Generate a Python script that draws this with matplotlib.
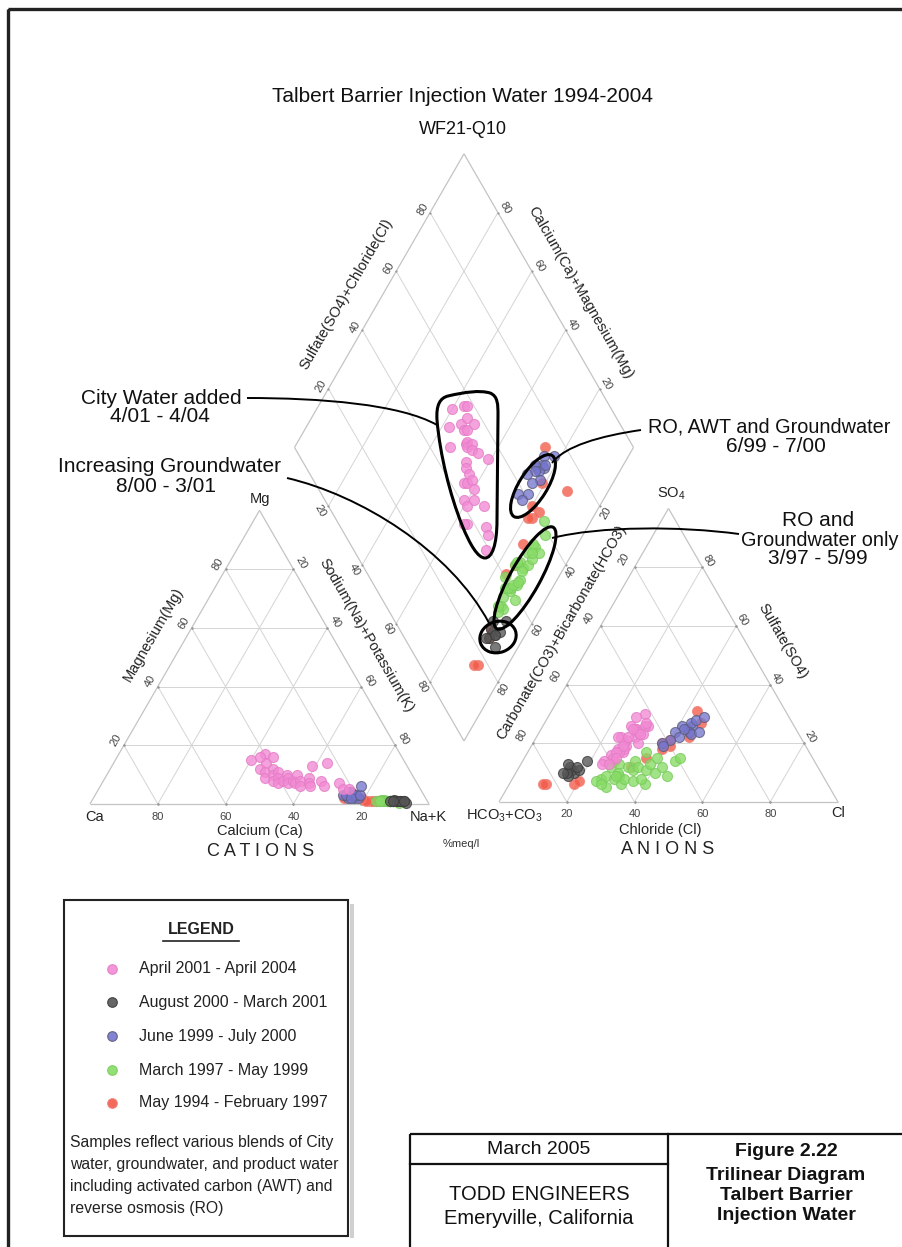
import numpy as np
import matplotlib
matplotlib.use("Agg")
import matplotlib.pyplot as plt
from matplotlib.path import Path
from matplotlib.patches import PathPatch, Ellipse, Rectangle

plt.rcParams['font.family'] = ['Liberation Sans', 'DejaVu Sans']
plt.rcParams['mathtext.default'] = 'regular'

# ---------------------------------------------------------------------------
# Sample chemistry in %meq/l: (Na+K, Mg, SO4, Cl).  Ca = 100 - Na - Mg,
# HCO3+CO3 = 100 - SO4 - Cl.
# ---------------------------------------------------------------------------
series_labels = ["April 2001 - April 2004", "August 2000 - March 2001",
                 "June 1999 - July 2000", "March 1997 - May 1999",
                 "May 1994 - February 1997"]

apr01_apr04 = [
    (40, 15, 25, 28), (43, 17, 26, 31), (44, 12, 30, 28), (45, 14, 24, 29),
    (46, 11, 26, 30), (47, 9, 25, 28), (48, 12, 23, 31), (49, 10, 27, 30),
    (50, 8, 22, 29), (50, 11, 26, 26), (51, 9, 20, 31), (52, 7, 24, 29),
    (53, 10, 21, 27), (53, 8, 25, 27), (54, 9, 19, 28), (55, 7, 23, 30),
    (56, 8, 18, 26), (56, 10, 22, 25), (57, 7, 17, 28), (58, 8, 20, 27),
    (59, 6, 16, 25), (60, 9, 18, 28), (61, 7, 15, 26), (62, 6, 17, 27),
    (64, 8, 14, 24), (66, 6, 19, 27), (70, 7, 17, 26), (72, 5, 15, 27),
    (63, 14, 13, 24), (59, 13, 29, 26), (46, 16, 22, 24), (42, 16, 22, 27),
    (74, 5, 13, 26),
]

aug00_mar01 = [
    (90, 1, 11, 16), (91, 1, 10, 17), (89, 1.5, 12, 15), (92, 1, 11, 18),
    (90, 1, 9, 16), (93, 0.5, 10, 15), (88, 1, 12, 17), (91, 1, 13, 14),
    (89, 1, 10, 14), (92, 1, 14, 19),
]

jun99_jul00 = [
    (76, 3, 26, 44), (75, 3, 25, 43), (77, 2, 27, 43), (74, 4, 24, 44),
    (76, 3, 23, 45), (75, 2, 26, 41), (78, 2, 25, 42), (73, 3, 24, 40),
    (76, 3, 22, 42), (75, 4, 28, 44), (77, 3, 21, 40), (74, 3, 20, 38),
    (76, 2, 19, 39), (78, 3, 29, 46), (77, 6, 24, 47),
]

mar97_may99 = [
    (88, 1, 8, 26), (87, 1, 9, 27), (89, 1, 5, 29), (88, 1, 12, 27),
    (86, 1.5, 8, 30), (88, 1, 9, 31), (89, 1, 13, 29), (87, 1, 6, 33),
    (88, 1, 8, 33), (89, 1, 12, 32), (85, 1.5, 11, 34), (89, 1, 7, 36),
    (88, 1, 14, 33), (86, 1, 12, 35), (89, 1, 11, 38), (88, 1, 6, 40),
    (87, 1, 13, 38), (89, 1, 10, 41), (88, 1, 12, 42), (90, 1, 15, 39),
    (87, 1, 9, 45), (88, 1, 17, 35), (89, 1, 14, 45), (86, 1, 15, 46),
    (88, 1, 7, 25), (87, 1, 6, 27), (84, 1, 10, 30), (91, 0.5, 9, 30),
    (85, 1, 8, 38),
]

may94_feb97 = [
    (91, 1, 6, 11), (90, 1, 6, 19), (89, 1, 7, 20), (84, 1, 14, 27),
    (84, 1, 15, 36), (82, 1, 20, 38), (83, 1, 21, 40), (74, 2, 31, 43),
    (88, 1, 27, 46), (80, 1.5, 19, 41), (81, 1, 18, 39), (79, 2, 22, 45),
    (85, 1, 12, 33), (90, 1, 6, 10),
]

series_data = [apr01_apr04, aug00_mar01, jun99_jul00, mar97_may99, may94_feb97]
series_face = ["#f28ad4", "#555555", "#7676cf", "#88dc66", "#f25a48"]
series_edge = ["#e47cc6", "#3a3a3a", "#5c5c7a", "#78cc5c", "#f08078"]

ticks = [20, 40, 60, 80]

# ---------------------------------------------------------------------------
# Page geometry (pixel space, y downwards)
# ---------------------------------------------------------------------------
W, H = 902, 1247
SIDE = 339.0
HT = SIDE * np.sqrt(3) / 2

CAT = dict(A=(90.0, 804.0))
CAT["B"] = (CAT["A"][0] + SIDE, CAT["A"][1])
CAT["C"] = (CAT["A"][0] + SIDE / 2, CAT["A"][1] - HT)
AN = dict(A=(499.0, 802.0))
AN["B"] = (AN["A"][0] + SIDE, AN["A"][1])
AN["C"] = (AN["A"][0] + SIDE / 2, AN["A"][1] - HT)
DB = (464.0, 741.0)
DR = (DB[0] + SIDE / 2, DB[1] - HT)
DT = (DB[0], DB[1] - 2 * HT)
DL = (DB[0] - SIDE / 2, DB[1] - HT)


def cation_xy(na, mg):
    na, mg = np.asarray(na) / 100.0, np.asarray(mg) / 100.0
    return CAT["A"][0] + (na + mg / 2) * SIDE, CAT["A"][1] - mg * HT


def anion_xy(cl, so4):
    cl, so4 = np.asarray(cl) / 100.0, np.asarray(so4) / 100.0
    return AN["A"][0] + (cl + so4 / 2) * SIDE, AN["A"][1] - so4 * HT


def diamond_xy(na, s):
    cm = 1 - np.asarray(na) / 100.0
    s = np.asarray(s) / 100.0
    return DB[0] + (s - cm) * SIDE / 2, DB[1] - (s + cm) * HT


def lerp(p, q, f):
    return (p[0] + (q[0] - p[0]) * f, p[1] + (q[1] - p[1]) * f)


fig = plt.figure(figsize=(W / 100, H / 100), dpi=100)
ax = fig.add_axes([0, 0, 1, 1])
ax.set_xlim(0, W)
ax.set_ylim(H, 0)
ax.axis("off")

GRID = dict(color="#d4d4d4", lw=0.7, zorder=1)
EDGE = dict(color="#c4c4c4", lw=0.9, zorder=1)


def seg(p, q, **kw):
    ax.plot([p[0], q[0]], [p[1], q[1]], solid_capstyle="butt", **kw)


def dot(p):
    ax.plot(p[0], p[1], "o", ms=1.6, color="#9a9a9a", mec="none", zorder=1.5)


def draw_triangle(T):
    A, B, C = T["A"], T["B"], T["C"]
    for f in [t / 100 for t in ticks]:
        p1, p2 = lerp(A, C, f), lerp(B, C, f)
        seg(p1, p2, **GRID)
        p3, p4 = lerp(A, B, f), lerp(C, B, f)
        seg(p3, p4, **GRID)
        p5, p6 = lerp(B, A, f), lerp(C, A, f)
        seg(p5, p6, **GRID)
        for p in (p1, p2, p3, p4, p5, p6):
            dot(p)
    seg(A, B, **EDGE)
    seg(B, C, **EDGE)
    seg(C, A, **EDGE)


def draw_diamond():
    for f in [t / 100 for t in ticks]:
        p1, p2 = lerp(DB, DL, f), lerp(DR, DT, f)
        seg(p1, p2, **GRID)
        p3, p4 = lerp(DB, DR, f), lerp(DL, DT, f)
        seg(p3, p4, **GRID)
        for p in (p1, p2, p3, p4):
            dot(p)
    for p, q in ((DB, DR), (DR, DT), (DT, DL), (DL, DB)):
        seg(p, q, **EDGE)


draw_triangle(CAT)
draw_triangle(AN)
draw_diamond()

# ---------------------------------------------------------------------------
# Tick labels and axis titles
# ---------------------------------------------------------------------------
TK = dict(fontsize=8, color="#444444", ha="center", va="center", zorder=3)
AX = dict(fontsize=10.5, color="#222222", ha="center", va="center", zorder=3)

for t in ticks:
    f = t / 100
    p = lerp(CAT["A"], CAT["B"], 1 - f)
    ax.text(p[0], p[1] + 13, str(t), **TK)
    p = lerp(CAT["A"], CAT["C"], f)
    ax.text(p[0] - 8, p[1] - 5, str(t), rotation=60, **TK)
    p = lerp(CAT["C"], CAT["B"], f)
    ax.text(p[0] + 8, p[1] - 6, str(t), rotation=-60, **TK)
    p = lerp(AN["A"], AN["B"], f)
    ax.text(p[0], p[1] + 12, str(t), **TK)
    p = lerp(AN["C"], AN["A"], f)
    ax.text(p[0] - 11, p[1] - 8, str(t), rotation=60, **TK)
    p = lerp(AN["B"], AN["C"], f)
    ax.text(p[0] + 6, p[1] - 6, str(t), rotation=-60, **TK)
    p = lerp(DL, DT, f)
    ax.text(p[0] - 7, p[1] - 3, str(t), rotation=60, **TK)
    p = lerp(DR, DT, f)
    ax.text(p[0] + 7, p[1] - 5, str(t), rotation=-60, **TK)
    p = lerp(DL, DB, f)
    ax.text(p[0] - 8, p[1] + 5, str(t), rotation=-60, **TK)
    p = lerp(DR, DB, f)
    ax.text(p[0] + 6, p[1] + 7, str(t), rotation=60, **TK)

ax.text(95, 817, "Ca", **AX)
ax.text(428, 817, "Na+K", **AX)
ax.text(260, 499, "Mg", **AX)
ax.text(260, 831, "Calcium (Ca)", **AX)
ax.text(153, 634, "Magnesium(Mg)", rotation=60, **AX)
ax.text(366, 635, "Sodium(Na)+Potassium(K)", rotation=-60, **AX)
ax.text(261, 852, "C A T I O N S", fontsize=13, color="#222222",
        ha="center", va="center")

ax.text(504, 816, "HCO$_3$+CO$_3$", **AX)
ax.text(838, 813, "Cl", **AX)
ax.text(671, 494, "SO$_4$", **AX)
ax.text(660, 830, "Chloride (Cl)", **AX)
ax.text(783, 641, "Sulfate(SO4)", rotation=-60, **AX)
ax.text(562, 632, "Carbonate(CO3)+Bicarbonate(HCO3)", rotation=60, **AX)
ax.text(668, 849, "A N I O N S", fontsize=13, color="#222222",
        ha="center", va="center")

ax.text(346, 294, "Sulfate(SO4)+Chloride(Cl)", rotation=60, **AX)
ax.text(580, 293, "Calcium(Ca)+Magnesium(Mg)", rotation=-60, **AX)
ax.text(461, 844, "%meq/l", fontsize=8, color="#333333", ha="center",
        va="center")

ax.text(462, 96, "Talbert Barrier Injection Water 1994-2004", fontsize=15,
        ha="center", va="center", color="#111111")
ax.text(463, 129, "WF21-Q10", fontsize=13, ha="center", va="center",
        color="#111111")

# ---------------------------------------------------------------------------
# Samples projected into the three fields
# ---------------------------------------------------------------------------
order = [4, 3, 2, 1, 0]
for i in order:
    d = np.array(series_data[i], dtype=float)
    na, mg, so4, cl = d[:, 0], d[:, 1], d[:, 2], d[:, 3]
    kw = dict(s=52, c=series_face[i], edgecolors=series_edge[i],
              linewidths=0.8, alpha=0.78, zorder=4)
    ax.scatter(*cation_xy(na, mg), **kw)
    ax.scatter(*anion_xy(cl, so4), **kw)
    ax.scatter(*diamond_xy(na, so4 + cl), **kw)

# ---------------------------------------------------------------------------
# Group outlines and call-outs
# ---------------------------------------------------------------------------
OUT = dict(facecolor="none", edgecolor="black", lw=2.2, zorder=6)

tear = Path(
    [(448, 396), (465, 392), (480, 390), (490, 393),
     (498, 396), (498, 405), (498, 415),
     (497, 520),
     (497, 545), (492, 558), (485, 558),
     (478, 558), (470, 545), (462, 525),
     (450, 495), (440, 455), (437, 420),
     (436, 405), (440, 398), (448, 396)],
    [Path.MOVETO, Path.CURVE4, Path.CURVE4, Path.CURVE4,
     Path.CURVE4, Path.CURVE4, Path.CURVE4,
     Path.LINETO,
     Path.CURVE4, Path.CURVE4, Path.CURVE4,
     Path.CURVE4, Path.CURVE4, Path.CURVE4,
     Path.CURVE4, Path.CURVE4, Path.CURVE4,
     Path.CURVE4, Path.CURVE4, Path.CURVE4])
ax.add_patch(PathPatch(tear, **OUT))
ax.add_patch(Ellipse((533, 486), 72, 28, angle=-58, **OUT))
ax.add_patch(Ellipse((525, 578), 116, 30, angle=-61, **OUT))
ax.add_patch(Ellipse((498, 637), 37, 31, angle=-20, **OUT))

LEAD = dict(facecolor="none", edgecolor="black", lw=1.4, zorder=6)
C4 = [Path.MOVETO, Path.CURVE4, Path.CURVE4, Path.CURVE4]
ax.add_patch(PathPatch(Path([(247, 398), (320, 398), (400, 404), (437, 425)], C4), **LEAD))
ax.add_patch(PathPatch(Path([(287, 478), (360, 495), (450, 550), (489, 623)], C4), **LEAD))
ax.add_patch(PathPatch(Path([(641, 430), (600, 436), (565, 446), (552, 463)], C4), **LEAD))
ax.add_patch(PathPatch(Path([(739, 534), (680, 526), (600, 526), (552, 538)], C4), **LEAD))

NOTE = dict(fontsize=15, color="#111111", ha="center", va="center")
ax.text(161, 398, "City Water added", **NOTE)
ax.text(160, 417, "4/01 - 4/04", **NOTE)
ax.text(170, 467, "Increasing Groundwater", **NOTE)
ax.text(166, 487, "8/00 - 3/01", **NOTE)
ax.text(648, 427, "RO, AWT and Groundwater", fontsize=14.3, color="#111111",
        ha="left", va="center")
ax.text(776, 446, "6/99 - 7/00", **NOTE)
ax.text(818, 520, "RO and", **NOTE)
ax.text(741, 540, "Groundwater only", fontsize=14.3, color="#111111",
        ha="left", va="center")
ax.text(818, 559, "3/97 - 5/99", **NOTE)

# ---------------------------------------------------------------------------
# Legend panel
# ---------------------------------------------------------------------------
ax.add_patch(Rectangle((350, 904), 4, 334, facecolor="#d0d0d0",
                       edgecolor="none", zorder=1))
ax.add_patch(Rectangle((64, 900), 284, 336, facecolor="white",
                       edgecolor="#222222", lw=1.5, zorder=2))
ax.text(201, 930, "LEGEND", fontsize=11.5, fontweight="bold", ha="center",
        va="center", color="#222222", zorder=3)
ax.plot([163, 239], [941, 941], color="#222222", lw=1.2, zorder=3)
legend_y = [969, 1002, 1036, 1070, 1103]
for i, y in enumerate(legend_y):
    ax.scatter([112], [y], s=48, c=series_face[i], edgecolors=series_edge[i],
               linewidths=0.8, alpha=0.9, zorder=4)
    ax.text(139, y, series_labels[i], fontsize=11.5, ha="left", va="center",
            color="#222222", zorder=4)
desc = ["Samples reflect various blends of City",
        "water, groundwater, and product water",
        "including activated carbon (AWT) and",
        "reverse osmosis (RO)"]
for k, line in enumerate(desc):
    ax.text(70, 1143 + 22 * k, line, fontsize=11.3, ha="left", va="center",
            color="#222222", zorder=4)

# ---------------------------------------------------------------------------
# Title block
# ---------------------------------------------------------------------------
BOX = dict(facecolor="none", edgecolor="#111111", lw=1.6, zorder=2)
ax.add_patch(Rectangle((410, 1134), 520, 140, **BOX))
ax.plot([668, 668], [1134, 1260], color="#111111", lw=1.6, zorder=2)
ax.plot([410, 668], [1164, 1164], color="#111111", lw=1.6, zorder=2)
ax.text(539, 1150, "March 2005", fontsize=14, ha="center", va="center",
        color="#111111")
ax.text(539, 1195, "TODD ENGINEERS", fontsize=14.5, ha="center",
        va="center", color="#111111")
ax.text(539, 1218, "Emeryville, California", fontsize=14.5, ha="center",
        va="center", color="#111111")
for text, y in (("Figure 2.22", 1151), ("Trilinear Diagram", 1175),
                ("Talbert Barrier", 1196), ("Injection Water", 1216)):
    ax.text(786, y, text, fontsize=14, fontweight="bold", ha="center",
            va="center", color="#111111")

# page frame
ax.add_patch(Rectangle((8, 9), 960, 1300, facecolor="none",
                       edgecolor="#222222", lw=2.4, zorder=1))

fig.savefig("out.png", dpi=100)
